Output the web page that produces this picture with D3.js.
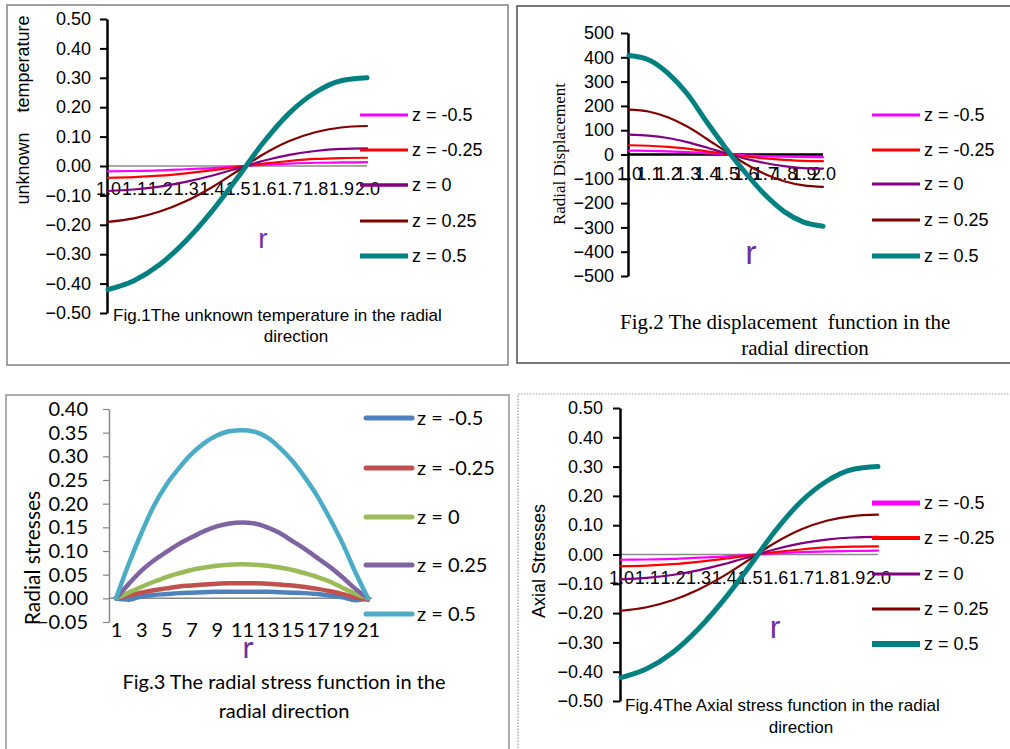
<!DOCTYPE html>
<html>
<head>
<meta charset="utf-8">
<script src="https://cdn.jsdelivr.net/npm/d3@7"></script>
<style>
body { margin: 0; background: #fff; }
text { white-space: pre; }
</style>
</head>
<body>
<div id="figs"></div>
<script>
// ---------------------- values ----------------------
var rCats = ["1.0", "1.1", "1.2", "1.3", "1.4", "1.5", "1.6", "1.7", "1.8", "1.9", "2.0"];
var stressCats = ["1", "2", "3", "4", "5", "6", "7", "8", "9", "10", "11",
                  "12", "13", "14", "15", "16", "17", "18", "19", "20", "21"];
var stressTickCats = ["1", "3", "5", "7", "9", "11", "13", "15", "17", "19", "21"];
var zNames = ["z = -0.5", "z = -0.25", "z = 0", "z = 0.25", "z = 0.5"];

// fig.1 unknown temperature
var tempZm050 = [-0.018, -0.017, -0.015, -0.011, -0.007, -0.001, 0.004, 0.008, 0.011, 0.012, 0.013];
var tempZm025 = [-0.040, -0.038, -0.033, -0.025, -0.015, -0.003, 0.008, 0.017, 0.024, 0.027, 0.028];
var tempZ000  = [-0.085, -0.080, -0.070, -0.054, -0.033, -0.008, 0.018, 0.038, 0.051, 0.058, 0.060];
var tempZp025 = [-0.190, -0.178, -0.155, -0.120, -0.073, -0.017, 0.040, 0.085, 0.115, 0.131, 0.136];
var tempZp050 = [-0.420, -0.390, -0.335, -0.255, -0.155, -0.040, 0.080, 0.180, 0.250, 0.290, 0.300];

// fig.2 radial displacement
var dispZm050 = [16, 15, 13, 10, 6, 1, -3, -7, -9, -10, -11];
var dispZm025 = [38, 36, 31, 24, 13, 2, -8, -16, -22, -26, -27];
var dispZ000  = [82, 78, 68, 51, 29, 5, -17, -35, -48, -56, -58];
var dispZp025 = [185, 177, 153, 115, 65, 12, -38, -80, -110, -127, -133];
var dispZp050 = [407, 390, 335, 250, 135, 25, -75, -165, -235, -278, -295];

// fig.3 radial stresses
var radZm050 = [0, -0.003, 0.004, 0.007, 0.009, 0.011, 0.012, 0.013, 0.014, 0.014, 0.014,
                0.014, 0.014, 0.013, 0.012, 0.011, 0.009, 0.006, 0.002, -0.004, 0];
var radZm025 = [0, 0.006, 0.012, 0.017, 0.021, 0.025, 0.027, 0.029, 0.031, 0.032, 0.032,
                0.032, 0.031, 0.029, 0.027, 0.024, 0.020, 0.015, 0.009, 0.002, -0.003];
var radZ000  = [0, 0.012, 0.024, 0.035, 0.045, 0.053, 0.060, 0.065, 0.069, 0.071, 0.072,
                0.071, 0.069, 0.065, 0.060, 0.053, 0.045, 0.035, 0.022, 0.010, 0];
var radZp025 = [0, 0.030, 0.058, 0.080, 0.098, 0.115, 0.129, 0.142, 0.152, 0.158, 0.160,
                0.158, 0.150, 0.138, 0.121, 0.104, 0.085, 0.066, 0.044, 0.020, 0];
var radZp050 = [0, 0.072, 0.137, 0.195, 0.240, 0.275, 0.305, 0.328, 0.344, 0.353, 0.355,
                0.352, 0.340, 0.318, 0.290, 0.255, 0.215, 0.167, 0.115, 0.055, 0];

// fig.4 axial stresses
var axZm050 = [-0.018, -0.017, -0.015, -0.011, -0.007, -0.001, 0.004, 0.008, 0.011, 0.012, 0.013];
var axZm025 = [-0.040, -0.038, -0.033, -0.025, -0.015, -0.003, 0.008, 0.017, 0.024, 0.027, 0.028];
var axZ000  = [-0.085, -0.080, -0.070, -0.054, -0.033, -0.008, 0.018, 0.038, 0.051, 0.058, 0.060];
var axZp025 = [-0.192, -0.180, -0.156, -0.120, -0.073, -0.017, 0.040, 0.085, 0.115, 0.131, 0.136];
var axZp050 = [-0.420, -0.390, -0.335, -0.255, -0.155, -0.040, 0.080, 0.180, 0.250, 0.290, 0.300];

var tempTicks = [-0.5, -0.4, -0.3, -0.2, -0.1, 0, 0.1, 0.2, 0.3, 0.4, 0.5];
var dispTicks = [-500, -400, -300, -200, -100, 0, 100, 200, 300, 400, 500];
var radTicks = [-0.05, 0, 0.05, 0.1, 0.15, 0.2, 0.25, 0.3, 0.35, 0.4];

// ---------------------- styles ----------------------
var arial = "'Liberation Sans', Arial, sans-serif";
var times = "'Liberation Serif', 'Times New Roman', serif";
var calibri = "Lato, 'Open Sans', sans-serif";
var xlColors = ["#ff00ff", "#ff0000", "#800080", "#800000", "#008080"];
var xlWidths = [2.2, 2.2, 2.2, 2.2, 5];
var offColors = ["#4f81bd", "#c0504d", "#9bbb59", "#8064a2", "#4bacc6"];

var svg = d3.select("#figs")
     .append("svg")
     .attr("width", 1010)
     .attr("height", 749);

// ---------------------- panel frames ----------------------
svg.append("rect").attr("x", 7).attr("y", 5).attr("width", 501).attr("height", 360)
     .attr("fill", "none").attr("stroke", "#8a8a8a").attr("stroke-width", 1.6);
svg.append("rect").attr("x", 517).attr("y", 6).attr("width", 520).attr("height", 357)
     .attr("fill", "none").attr("stroke", "#6a6a6a").attr("stroke-width", 1.8);
svg.append("rect").attr("x", 6).attr("y", 395).attr("width", 503).attr("height", 380)
     .attr("fill", "none").attr("stroke", "#9a9a9a").attr("stroke-width", 1.6);
svg.append("rect").attr("x", 518).attr("y", 394).attr("width", 520).attr("height", 380)
     .attr("fill", "none").attr("stroke", "#9a9a9a").attr("stroke-width", 1.2)
     .attr("stroke-dasharray", "1.5,1.5");

// ---------------------- one line chart panel ----------------------
function drawPanel(o) {
     var x = d3.scalePoint().domain(o.cats).range(o.xRange);
     var y = d3.scaleLinear().domain(o.yDomain).range(o.yRange);
     var g = svg.append("g");

     // horizontal axis at zero
     var xa = g.append("g")
          .attr("transform", "translate(0," + y(0) + ")")
          .call(d3.axisBottom(x).tickValues(o.xTicks || o.cats).tickSize(0).tickPadding(o.xPad));
     xa.select(".domain").remove();
     xa.append("line")
          .attr("x1", o.axisX).attr("x2", o.xEnd)
          .attr("stroke", o.zeroColor).attr("stroke-width", o.zeroWidth);
     xa.selectAll("text")
          .attr("font-family", o.font).attr("font-size", o.fontSize).attr("fill", "#000");

     // vertical axis
     var ya = g.append("g")
          .attr("transform", "translate(" + o.axisX + ",0)")
          .call(d3.axisLeft(y).tickValues(o.yTicks).tickFormat(o.yFormat)
               .tickSize(o.tickLen).tickSizeOuter(0).tickPadding(o.yPad));
     ya.select(".domain").attr("stroke", o.axisColor).attr("stroke-width", o.axisWidth);
     ya.selectAll(".tick line").attr("stroke", o.axisColor).attr("stroke-width", o.axisWidth * 0.8);
     ya.selectAll("text")
          .attr("font-family", o.font).attr("font-size", o.fontSize).attr("fill", "#000");

     // series
     var line = d3.line()
          .x(function(d, i) { return x(o.cats[i]); })
          .y(function(d) { return y(d); })
          .curve(d3.curveMonotoneX);
     g.selectAll("path.series")
          .data(o.series)
          .enter()
          .append("path")
          .attr("class", "series")
          .attr("d", line)
          .attr("fill", "none")
          .attr("stroke", function(d, i) { return o.colors[i]; })
          .attr("stroke-width", function(d, i) { return o.widths[i]; })
          .attr("stroke-linecap", "round")
          .attr("stroke-linejoin", "round");

     // legend
     var lg = g.selectAll("g.leg")
          .data(zNames)
          .enter()
          .append("g")
          .attr("class", "leg")
          .attr("transform", function(d, i) { return "translate(0," + o.legRows[i] + ")"; });
     lg.append("line")
          .attr("x1", o.legX[0]).attr("x2", o.legX[1])
          .attr("stroke", function(d, i) { return o.colors[i]; })
          .attr("stroke-width", function(d, i) { return o.legWidths[i]; })
          .attr("stroke-linecap", o.legCap);
     lg.append("text")
          .attr("x", o.legX[2])
          .attr("dy", "0.36em")
          .attr("font-family", o.font)
          .attr("font-size", o.legSize)
          .text(function(d) { return d; });

     // axis titles and caption
     g.append("text")
          .attr("transform", "translate(" + o.yTitle[0] + "," + o.yTitle[1] + ") rotate(-90)")
          .attr("text-anchor", "middle").attr("dy", "0.35em")
          .attr("font-family", o.yTitleFont).attr("font-size", o.yTitleSize)
          .text(o.yTitleText);
     g.append("text")
          .attr("x", o.rPos[0]).attr("y", o.rPos[1])
          .attr("text-anchor", "middle").attr("dy", "0.3em")
          .attr("font-family", o.font).attr("font-size", o.rSize).attr("fill", "#7030a0")
          .text("r");
     g.selectAll("text.cap")
          .data(o.caption)
          .enter()
          .append("text")
          .attr("class", "cap")
          .attr("x", function(d) { return d[1]; })
          .attr("y", function(d) { return d[2]; })
          .attr("text-anchor", function(d) { return d[3]; })
          .attr("font-family", o.capFont).attr("font-size", o.capSize)
          .text(function(d) { return d[0]; });
}

// ---------------------- Fig.1 ----------------------
drawPanel({
     cats: rCats, xRange: [108, 367], yDomain: [-0.5, 0.5], yRange: [313, 19],
     series: [tempZm050, tempZm025, tempZ000, tempZp025, tempZp050],
     colors: xlColors, widths: xlWidths, legWidths: [3, 3, 3.5, 3, 5], legCap: "butt",
     yTicks: tempTicks, yFormat: d3.format(".2f"),
     axisX: 107, xEnd: 367, xPad: 16, yPad: 9, tickLen: 7,
     zeroColor: "#8c8c8c", zeroWidth: 1.5, axisColor: "#000", axisWidth: 2.5,
     font: arial, fontSize: 18, legSize: 18,
     legRows: [115, 150, 185, 221, 256], legX: [360, 408, 412],
     yTitle: [23, 110], yTitleText: "unknown    temperature", yTitleFont: arial, yTitleSize: 18,
     rPos: [263, 240], rSize: 28,
     capFont: arial, capSize: 17,
     caption: [["Fig.1The unknown temperature in the radial", 113, 321, "start"],
               ["direction", 296, 342, "middle"]]
});

// ---------------------- Fig.2 ----------------------
drawPanel({
     cats: rCats, xRange: [629, 823], yDomain: [-500, 500], yRange: [276, 33],
     series: [dispZm050, dispZm025, dispZ000, dispZp025, dispZp050],
     colors: xlColors, widths: xlWidths, legWidths: [3, 3, 3, 3, 5], legCap: "butt",
     yTicks: dispTicks, yFormat: d3.format("d"),
     axisX: 628, xEnd: 823, xPad: 13, yPad: 7, tickLen: 7,
     zeroColor: "#000", zeroWidth: 2.5, axisColor: "#000", axisWidth: 2.5,
     font: arial, fontSize: 18, legSize: 18,
     legRows: [115, 150, 184, 220, 256], legX: [872, 920, 924],
     yTitle: [559, 154], yTitleText: "Radial Displacement", yTitleFont: times, yTitleSize: 17,
     rPos: [751, 254], rSize: 34,
     capFont: times, capSize: 21,
     caption: [["Fig.2 The displacement  function in the", 620, 329, "start"],
               ["radial direction", 805, 355, "middle"]]
});

// ---------------------- Fig.3 ----------------------
drawPanel({
     cats: stressCats, xTicks: stressTickCats, xRange: [116, 368], yDomain: [-0.05, 0.40], yRange: [622, 409],
     series: [radZm050, radZm025, radZ000, radZp025, radZp050],
     colors: offColors, widths: [4.5, 4.5, 4.5, 4.5, 4.5], legWidths: [5, 5, 5, 5, 5], legCap: "round",
     yTicks: radTicks, yFormat: d3.format(".2f"),
     axisX: 109, xEnd: 372, xPad: 24, yPad: 15, tickLen: 6,
     zeroColor: "#868686", zeroWidth: 1.5, axisColor: "#868686", axisWidth: 1.5,
     font: calibri, fontSize: 20, legSize: 20,
     legRows: [418, 468, 517, 565, 614], legX: [366, 412, 417],
     yTitle: [33, 558], yTitleText: "Radial stresses", yTitleFont: calibri, yTitleSize: 21,
     rPos: [248, 649], rSize: 30,
     capFont: calibri, capSize: 20,
     caption: [["Fig.3 The radial stress function in the", 284, 689, "middle"],
               ["radial direction", 284, 718, "middle"]]
});

// ---------------------- Fig.4 ----------------------
drawPanel({
     cats: rCats, xRange: [621, 878], yDomain: [-0.5, 0.5], yRange: [701, 408],
     series: [axZm050, axZm025, axZ000, axZp025, axZp050],
     colors: xlColors, widths: xlWidths, legWidths: [5, 4, 3, 3, 6], legCap: "butt",
     yTicks: tempTicks, yFormat: d3.format(".2f"),
     axisX: 620, xEnd: 878, xPad: 17, yPad: 10, tickLen: 7,
     zeroColor: "#8c8c8c", zeroWidth: 1.5, axisColor: "#000", axisWidth: 2.5,
     font: arial, fontSize: 18, legSize: 18,
     legRows: [503, 538, 574, 609, 644], legX: [872, 920, 924],
     yTitle: [539, 561], yTitleText: "Axial Stresses", yTitleFont: arial, yTitleSize: 18,
     rPos: [775, 628], rSize: 32,
     capFont: arial, capSize: 17,
     caption: [["Fig.4The Axial stress function in the radial", 625, 711, "start"],
               ["direction", 801, 733, "middle"]]
});
</script>
</body>
</html>
